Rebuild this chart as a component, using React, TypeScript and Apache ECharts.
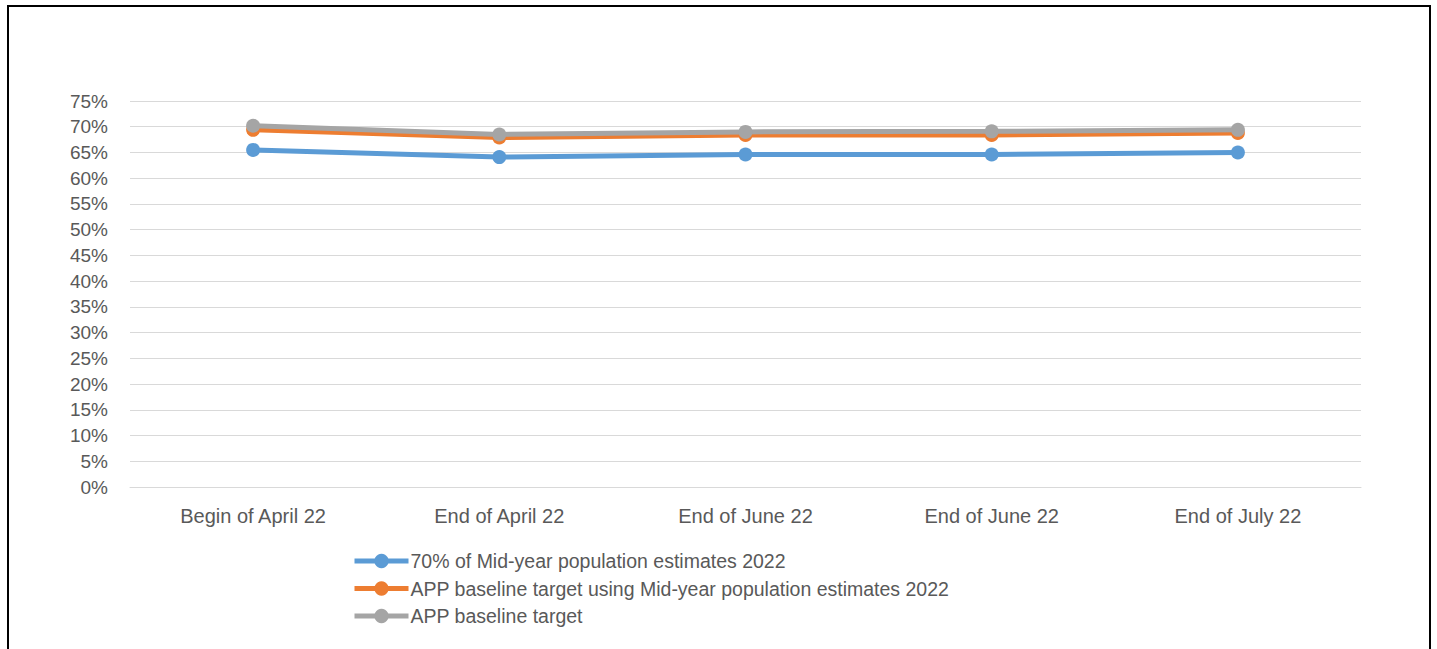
import React, { useEffect, useRef } from "react";
import * as echarts from "echarts";

const categories = ["Begin of April 22", "End of April 22", "End of June 22", "End of June 22", "End of July 22"];
const seriesNames = [
  "70% of Mid-year population estimates 2022",
  "APP baseline target using Mid-year population estimates 2022",
  "APP baseline target",
];
const blueValues = [65.5, 64.1, 64.6, 64.6, 65.0];
const orangeValues = [69.4, 67.9, 68.4, 68.4, 68.8];
const grayValues = [70.2, 68.5, 69.0, 69.1, 69.4];
const colors = ["#5B9BD5", "#ED7D31", "#A5A5A5"];

export default function App() {
  const ref = useRef<HTMLDivElement>(null);
  useEffect(() => {
    if (!ref.current) return;
    const chart = echarts.init(ref.current, undefined, { renderer: "svg" });
    const font = "'Liberation Sans', Arial, sans-serif";
    const data = [blueValues, orangeValues, grayValues];
    chart.setOption({
      animation: false,
      backgroundColor: "#ffffff",
      textStyle: { fontFamily: font },
      grid: { left: 130, right: 76, top: 101, bottom: 162, containLabel: false },
      xAxis: {
        type: "category",
        data: categories,
        boundaryGap: true,
        axisLine: { show: true, lineStyle: { color: "#D9D9D9", width: 1 } },
        axisTick: { show: false },
        axisLabel: { color: "#595959", fontSize: 20, margin: 19, fontFamily: font },
      },
      yAxis: {
        type: "value",
        min: 0,
        max: 75,
        interval: 5,
        axisLine: { show: false },
        axisTick: { show: false },
        splitLine: { lineStyle: { color: "#D9D9D9", width: 1 } },
        axisLabel: { color: "#595959", fontSize: 19, margin: 22, formatter: "{value}%", fontFamily: font },
      },
      legend: {
        orient: "vertical",
        left: 347,
        top: 546,
        itemWidth: 54,
        itemHeight: 18,
        itemGap: 7.5,
        lineStyle: { width: 5 },
        textStyle: { color: "#595959", fontSize: 19.5, fontFamily: font, padding: [0, 0, 0, -3] },
        data: seriesNames,
      },
      series: seriesNames.map((name, i) => ({
        name,
        type: "line",
        data: data[i],
        symbol: "circle",
        symbolSize: 14,
        lineStyle: { color: colors[i], width: 5 },
        itemStyle: { color: colors[i] },
        z: i + 2,
      })),
      graphic: [
        {
          type: "rect",
          shape: { x: 8, y: 6, width: 1422, height: 700 },
          style: { fill: "none", stroke: "#000000", lineWidth: 2 },
          silent: true,
        },
      ],
    });
    return () => chart.dispose();
  }, []);
  return (
    <div
      ref={ref}
      style={{ position: "absolute", left: 0, top: 0, width: 1437, height: 649 }}
    />
  );
}
